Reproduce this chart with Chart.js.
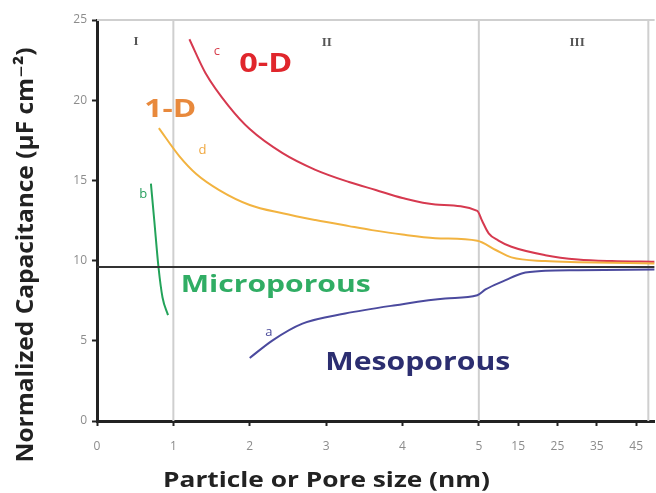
<!DOCTYPE html>
<html>
<head>
<meta charset="utf-8">
<script src="https://cdn.jsdelivr.net/npm/chart.js@4.4.1/dist/chart.umd.min.js"></script>
<style>
  html, body { margin: 0; padding: 0; background: #fff; }
  canvas { display: block; }
</style>
</head>
<body>
<canvas id="capChart" width="656" height="493"></canvas>
<script>
// size in nm, capacitance in µF cm-2
const sizeA = [2.0, 2.3, 2.69, 3.25, 3.91, 4.56, 4.98, 6.7, 11.8, 15.9, 21.9, 30.2, 49.7];
const capA  = [3.93, 5.03, 6.07, 6.7, 7.22, 7.64, 7.84, 8.2, 8.78, 9.2, 9.36, 9.4, 9.45];

const sizeB = [0.706, 0.75, 0.805, 0.858, 0.93];
const capB  = [14.8, 12.5, 9.6, 7.7, 6.6];

const sizeC = [1.21, 1.42, 1.73, 2.0, 2.43, 2.86, 3.3, 3.65, 4.0, 4.43, 4.98, 5.8, 7.5, 10, 13.3, 21.9, 30.2, 38.8, 49.7];
const capC  = [23.8, 21.7, 19.6, 18.2, 16.7, 15.66, 14.9, 14.4, 13.9, 13.5, 13.1, 12.5, 11.7, 11.25, 10.86, 10.34, 10.07, 9.97, 9.93];

const sizeD = [0.81, 1.08, 1.3, 1.6, 2.0, 2.43, 2.86, 3.3, 3.6, 4.0, 4.43, 4.98, 9.3, 13.3, 21.9, 30.2, 49.7];
const capD  = [18.26, 16.5, 15.4, 14.4, 13.47, 12.95, 12.53, 12.15, 11.9, 11.62, 11.4, 11.24, 10.66, 10.2, 9.97, 9.9, 9.82];

const bulkCap = 9.6;
const xTicks = [0, 1, 2, 3, 4, 5, 15, 25, 35, 45];
const xTickLabels = ['0', '1', '2', '3', '4', '5', '15', '25', '35', '45'];
const yTicks = [0, 5, 10, 15, 20, 25];
const regionBounds = [1, 5, 48.1];
const axisEnd = 49.7;

// broken axis: 1 nm per unit up to 5 nm, then compressed
function pos(nm) {
  return nm <= 5 ? nm : 5 + (nm - 5) * 0.0515;
}

function toPoints(xs, ys) {
  return xs.map((x, i) => ({ x: pos(x), y: ys[i] }));
}

const FONT = '"Open Sans", "DejaVu Sans", sans-serif';

const labels = [
  { text: '0-D', x: 2.21, y: 21.78, w: 53, font: 'bold 26px ' + FONT, color: '#e0262c' },
  { text: '1-D', x: 0.96, y: 18.97, w: 52, font: 'bold 25px ' + FONT, color: '#e8893c' },
  { text: 'Microporous', x: 2.34, y: 8.03, w: 190, font: 'bold 24px ' + FONT, color: '#30ad64' },
  { text: 'Mesoporous', x: 4.20, y: 3.16, w: 185, font: 'bold 25px ' + FONT, color: '#2c2e70' },
  { text: 'c', x: 1.57, y: 23.03, font: '13px ' + FONT, color: '#d8404e', mid: true },
  { text: 'd', x: 1.38, y: 16.9, font: '13px ' + FONT, color: '#f0a840', mid: true },
  { text: 'b', x: 0.605, y: 14.16, font: '13px ' + FONT, color: '#2aa060', mid: true },
  { text: 'a', x: 2.25, y: 5.53, font: '13px ' + FONT, color: '#4a4a9a', mid: true },
  { text: 'I', x: 0.51, y: 23.65, font: 'bold 13px "Liberation Serif", serif', color: '#555', mid: true },
  { text: 'II', x: 3.01, y: 23.6, font: 'bold 13px "Liberation Serif", serif', color: '#555', mid: true },
  { text: 'III', x: 30, y: 23.6, font: 'bold 13px "Liberation Serif", serif', color: '#555', mid: true }
];

function fitText(ctx, text, x, y, width, font, color, baseline) {
  ctx.save();
  ctx.font = font;
  ctx.fillStyle = color;
  ctx.textAlign = 'center';
  ctx.textBaseline = baseline || 'alphabetic';
  const m = ctx.measureText(text).width;
  ctx.translate(x, y);
  if (width) ctx.scale(width / m, 1);
  ctx.fillText(text, 0, 0);
  ctx.restore();
}

// region dividers and panel frame
const regionLines = {
  id: 'regionLines',
  beforeDatasetsDraw(chart) {
    const { ctx, chartArea: a, scales: { x } } = chart;
    ctx.save();
    ctx.strokeStyle = '#cfcfcf';
    ctx.lineWidth = 2;
    ctx.beginPath();
    ctx.moveTo(a.left, a.top);
    ctx.lineTo(a.right, a.top);
    regionBounds.forEach(b => {
      const px = x.getPixelForValue(pos(b));
      ctx.moveTo(px, a.top);
      ctx.lineTo(px, a.bottom);
    });
    ctx.stroke();
    ctx.restore();
  }
};

const textLayer = {
  id: 'textLayer',
  afterDatasetsDraw(chart) {
    const { ctx, scales: { x, y } } = chart;
    labels.forEach(l => {
      fitText(ctx, l.text, x.getPixelForValue(pos(l.x)), y.getPixelForValue(l.y),
        l.w, l.font, l.color, l.mid ? 'middle' : 'alphabetic');
    });
  },
  afterDraw(chart) {
    const ctx = chart.ctx;
    fitText(ctx, 'Particle or Pore size (nm)', 326.5, 487, 327, 'bold 22px ' + FONT, '#222');
    ctx.save();
    ctx.translate(33, 255);
    ctx.rotate(-Math.PI / 2);
    fitText(ctx, 'Normalized Capacitance (\u00b5F cm\u207b\u00b2)', 0, 0, 415, 'bold 24px ' + FONT, '#222');
    ctx.restore();
  }
};

const line = (data, color, width) => ({
  data,
  showLine: true,
  borderColor: color,
  borderWidth: width || 2,
  pointRadius: 0,
  fill: false,
  cubicInterpolationMode: 'monotone'
});

new Chart(document.getElementById('capChart'), {
  type: 'scatter',
  data: {
    datasets: [
      line([{ x: 0, y: bulkCap }, { x: pos(axisEnd), y: bulkCap }], '#333', 2),
      line(toPoints(sizeD, capD), '#f2b340'),
      line(toPoints(sizeC, capC), '#d6394f'),
      line(toPoints(sizeA, capA), '#4b4a9e'),
      line(toPoints(sizeB, capB), '#23a35a')
    ]
  },
  options: {
    responsive: false,
    animation: false,
    layout: { padding: { top: 20, right: 0, left: 0, bottom: 0 } },
    plugins: { legend: { display: false }, tooltip: { enabled: false } },
    scales: {
      x: {
        type: 'linear',
        min: 0,
        max: pos(axisEnd),
        afterBuildTicks: s => { s.ticks = xTicks.map(v => ({ value: pos(v) })); },
        afterFit: s => { s.height = 72; },
        ticks: {
          autoSkip: false,
          maxRotation: 0,
          padding: 13,
          color: '#8c8c8c',
          font: { size: 12, family: FONT },
          callback: (v, i) => xTickLabels[i]
        },
        grid: { drawOnChartArea: false, tickLength: 5, tickColor: '#222', tickWidth: 2 },
        border: { color: '#222', width: 3 }
      },
      y: {
        min: 0,
        max: 25,
        afterBuildTicks: s => { s.ticks = yTicks.map(v => ({ value: v })); },
        afterFit: s => { s.width = 97; },
        ticks: {
          padding: 5,
          color: '#8c8c8c',
          font: { size: 12, family: FONT }
        },
        grid: { drawOnChartArea: false, tickLength: 5, tickColor: '#222', tickWidth: 2 },
        border: { color: '#222', width: 3 }
      }
    }
  },
  plugins: [regionLines, textLayer]
});
</script>
</body>
</html>
